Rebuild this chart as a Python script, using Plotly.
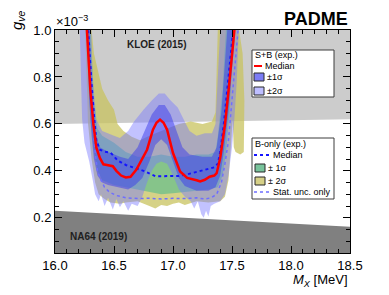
import plotly.graph_objects as go

# ---------------- data ----------------
kloe_x = [16.0, 18.5]
kloe_low = [0.600, 0.620]
kloe_top = 1.0
na64_x = [16.0, 18.5]
na64_high = [0.230, 0.162]
y_floor = 0.05

# S+B median (red)
sb_med_x = [16.265, 16.27, 16.29, 16.30, 16.325, 16.35, 16.38, 16.41, 16.44, 16.47, 16.49, 16.52, 16.56, 16.60,
            16.64, 16.69, 16.74, 16.78, 16.83, 16.86, 16.89, 16.92, 16.95, 17.00, 17.06, 17.12, 17.20, 17.23,
            17.27, 17.31, 17.35, 17.37, 17.40, 17.44, 17.47, 17.50, 17.52, 17.53]
sb_med_y = [1.05, 1.0, 0.82, 0.74, 0.60, 0.50, 0.455, 0.428, 0.425, 0.422, 0.42, 0.40, 0.38, 0.372,
            0.375, 0.405, 0.45, 0.49, 0.575, 0.605, 0.618, 0.605, 0.575, 0.476, 0.397, 0.37, 0.36, 0.355,
            0.362, 0.375, 0.38, 0.39, 0.455, 0.596, 0.737, 0.88, 1.0, 1.05]

# B-only median (blue dashed)
b_med_x = [16.275, 16.29, 16.31, 16.33, 16.35, 16.38, 16.42, 16.47, 16.53, 16.60, 16.66, 16.75, 16.85, 16.95,
           17.05, 17.12, 17.20, 17.28, 17.35, 17.38, 17.40, 17.43, 17.46, 17.49, 17.51, 17.52]
b_med_y = [1.05, 0.92, 0.77, 0.64, 0.53, 0.49, 0.482, 0.478, 0.445, 0.425, 0.415, 0.40, 0.377, 0.376,
           0.378, 0.385, 0.395, 0.405, 0.415, 0.43, 0.48, 0.596, 0.737, 0.88, 1.0, 1.05]

# B-only, statistical uncertainty only (dotted)
stat_x = [16.275, 16.30, 16.32, 16.34, 16.36, 16.39, 16.42, 16.46, 16.52, 16.60, 16.70, 16.80, 16.90, 17.00,
          17.10, 17.20, 17.27, 17.32, 17.37, 17.41, 17.44, 17.47, 17.51, 17.54, 17.56]
stat_y = [1.05, 0.80, 0.62, 0.48, 0.40, 0.36, 0.33, 0.31, 0.295, 0.285, 0.282, 0.283, 0.28, 0.283,
          0.282, 0.285, 0.28, 0.285, 0.30, 0.35, 0.43, 0.53, 0.74, 0.92, 1.05]

# B-only +-2 sigma (yellow)
b2_lo_x = [16.25, 16.26, 16.28, 16.31, 16.34, 16.37, 16.42, 16.47, 16.55, 16.60, 16.70, 16.80, 16.85, 16.90,
           16.95, 17.00, 17.05, 17.10, 17.20, 17.30, 17.40, 17.44, 17.47, 17.49, 17.505, 17.515, 17.53, 17.57,
           17.60, 17.605, 17.59, 17.56, 17.55]
b2_lo_y = [1.10, 0.90, 0.60, 0.45, 0.35, 0.30, 0.28, 0.265, 0.26, 0.265, 0.27, 0.25, 0.24, 0.255,
           0.25, 0.26, 0.265, 0.255, 0.27, 0.265, 0.27, 0.29, 0.36, 0.50, 0.62, 0.50, 0.48, 0.47,
           0.48, 0.70, 0.90, 1.0, 1.10]
b2_hi_x = [16.29, 16.31, 16.33, 16.36, 16.40, 16.45, 16.50, 16.53, 16.58, 16.65, 16.72, 16.80, 16.90, 17.00,
           17.05, 17.15, 17.25, 17.33, 17.36, 17.37, 17.38, 17.385]
b2_hi_y = [1.10, 1.0, 0.90, 0.84, 0.75, 0.70, 0.66, 0.60, 0.57, 0.545, 0.53, 0.55, 0.57, 0.59,
           0.60, 0.61, 0.60, 0.61, 0.65, 0.80, 1.0, 1.10]

# B-only +-1 sigma (green)
b1_lo_x = [16.265, 16.28, 16.30, 16.33, 16.36, 16.40, 16.50, 16.60, 16.70, 16.80, 16.90, 17.00, 17.10, 17.20,
           17.30, 17.38, 17.42, 17.45, 17.48, 17.50, 17.52]
b1_lo_y = [1.10, 0.85, 0.62, 0.48, 0.40, 0.36, 0.34, 0.33, 0.32, 0.31, 0.30, 0.305, 0.31, 0.315,
           0.32, 0.33, 0.38, 0.48, 0.65, 0.85, 1.10]
b1_hi_x = [16.30, 16.31, 16.33, 16.36, 16.40, 16.50, 16.60, 16.70, 16.80, 16.90, 17.00, 17.10, 17.20, 17.30,
           17.36, 17.38, 17.42, 17.45, 17.46]
b1_hi_y = [1.10, 0.90, 0.70, 0.58, 0.55, 0.52, 0.48, 0.46, 0.46, 0.47, 0.46, 0.46, 0.47, 0.47,
           0.48, 0.55, 0.75, 1.0, 1.10]

# S+B +-2 sigma (light blue)
sb2_lo_x = [16.20, 16.21, 16.22, 16.23, 16.25, 16.29, 16.32, 16.34, 16.37, 16.39, 16.42, 16.45, 16.49, 16.52,
            16.55, 16.58, 16.62, 16.65, 16.70, 16.74, 16.78, 16.82, 16.86, 16.90, 16.95, 17.00, 17.05, 17.10,
            17.15, 17.18, 17.21, 17.24, 17.26, 17.28, 17.30, 17.32, 17.35, 17.40, 17.44, 17.47, 17.50, 17.52,
            17.54, 17.555, 17.565]
sb2_lo_y = [1.10, 1.0, 0.80, 0.62, 0.52, 0.44, 0.36, 0.30, 0.27, 0.30, 0.25, 0.285, 0.235, 0.28,
            0.245, 0.27, 0.23, 0.26, 0.25, 0.29, 0.35, 0.40, 0.43, 0.44, 0.43, 0.38, 0.32, 0.29,
            0.27, 0.24, 0.27, 0.215, 0.20, 0.23, 0.205, 0.25, 0.26, 0.27, 0.30, 0.38, 0.50, 0.62,
            0.78, 0.92, 1.10]
sb2_hi_x = [16.30, 16.32, 16.35, 16.40, 16.50, 16.55, 16.62, 16.67, 16.75, 16.82, 16.88, 16.93, 16.98, 17.04,
            17.09, 17.14, 17.20, 17.27, 17.33, 17.36, 17.38, 17.40, 17.41]
sb2_hi_y = [1.10, 0.80, 0.62, 0.57, 0.55, 0.54, 0.57, 0.61, 0.66, 0.70, 0.73, 0.73, 0.70, 0.67,
            0.62, 0.57, 0.55, 0.56, 0.56, 0.60, 0.80, 1.0, 1.10]

# S+B +-1 sigma (blue)
sb1_lo_x = [16.26, 16.27, 16.29, 16.31, 16.33, 16.36, 16.40, 16.45, 16.55, 16.62, 16.68, 16.74, 16.80, 16.85,
            16.90, 16.95, 17.00, 17.05, 17.10, 17.20, 17.30, 17.36, 17.40, 17.43, 17.47, 17.50, 17.52, 17.53]
sb1_lo_y = [1.10, 0.95, 0.70, 0.55, 0.45, 0.38, 0.35, 0.34, 0.33, 0.32, 0.34, 0.37, 0.44, 0.51,
            0.535, 0.51, 0.44, 0.37, 0.335, 0.315, 0.315, 0.33, 0.38, 0.48, 0.65, 0.82, 0.95, 1.10]
sb1_hi_x = [16.285, 16.30, 16.32, 16.35, 16.38, 16.45, 16.55, 16.62, 16.70, 16.76, 16.82, 16.88, 16.93, 16.98,
            17.03, 17.08, 17.14, 17.25, 17.33, 17.37, 17.41, 17.44, 17.46, 17.47]
sb1_hi_y = [1.10, 0.90, 0.72, 0.55, 0.50, 0.48, 0.46, 0.45, 0.50, 0.57, 0.64, 0.68, 0.68, 0.64,
            0.57, 0.50, 0.47, 0.46, 0.46, 0.50, 0.65, 0.85, 1.0, 1.10]

x_ticks = [16.0, 16.5, 17.0, 17.5, 18.0, 18.5]
x_tick_text = ["16.0", "16.5", "17.0", "17.5", "18.0", "18.5"]
y_ticks = [0.2, 0.4, 0.6, 0.8, 1.0]
y_tick_text = ["0.2", "0.4", "0.6", "0.8", "1.0"]

# ---------------- colours ----------------
C_KLOE = "rgb(204,204,204)"
C_NA64 = "rgb(128,128,128)"
C_Y = "rgba(200,195,95,0.75)"
C_G = "rgba(100,190,140,0.7)"
C_LB = "rgba(120,120,255,0.45)"
C_B = "rgba(60,60,235,0.5)"
C_RED = "rgb(255,0,0)"
C_BMED = "rgb(20,20,255)"
C_STAT = "rgb(110,110,255)"

FONT = "Liberation Sans, Arial, sans-serif"

fig = go.Figure()


def band(lo_x, lo_y, hi_x, hi_y, color):
    return go.Scatter(x=lo_x + hi_x[::-1], y=lo_y + hi_y[::-1], fill="toself", fillcolor=color,
                      mode="lines", line=dict(width=0, color=color), hoverinfo="skip", showlegend=False)


# exclusion regions
fig.add_trace(go.Scatter(x=kloe_x + kloe_x[::-1], y=kloe_low + [kloe_top, kloe_top], fill="toself",
                         fillcolor=C_KLOE, mode="lines", line=dict(width=0), showlegend=False))
fig.add_trace(go.Scatter(x=na64_x + na64_x[::-1], y=na64_high + [y_floor, y_floor], fill="toself",
                         fillcolor=C_NA64, mode="lines", line=dict(width=0), showlegend=False))

# bands
fig.add_trace(band(b2_lo_x, b2_lo_y, b2_hi_x, b2_hi_y, C_Y))
fig.add_trace(band(b1_lo_x, b1_lo_y, b1_hi_x, b1_hi_y, C_G))
fig.add_trace(band(sb2_lo_x, sb2_lo_y, sb2_hi_x, sb2_hi_y, C_LB))
fig.add_trace(band(sb1_lo_x, sb1_lo_y, sb1_hi_x, sb1_hi_y, C_B))

# lines
fig.add_trace(go.Scatter(x=stat_x, y=stat_y, mode="lines", line=dict(color=C_STAT, width=1.5, dash="dot"),
                         showlegend=False))
fig.add_trace(go.Scatter(x=b_med_x, y=b_med_y, mode="lines", line=dict(color=C_BMED, width=2, dash="dot"),
                         showlegend=False))
fig.add_trace(go.Scatter(x=sb_med_x, y=sb_med_y, mode="lines", line=dict(color=C_RED, width=2.5),
                         showlegend=False))

# ---------------- layout helpers ----------------
# The page's default body margin offsets the figure by 8 px, so the figure is
# made 8 px smaller and all positions below are given in page pixels.
OFF = 8
W, H = 389 - OFF, 295 - OFF
L, R, T, B = 55, 350, 30, 253   # plot frame in page pixels


def PX(p):
    return (p - L) / (R - L)


def PY(p):
    return (B - p) / (B - T)


shapes = []
ann = []

# legend boxes
for (x0, y0, x1, y1) in [(252, 50, 334, 97), (252, 138, 334, 199)]:
    shapes.append(dict(type="rect", xref="paper", yref="paper", x0=PX(x0), x1=PX(x1), y0=PY(y1), y1=PY(y0),
                       fillcolor="white", line=dict(color="rgb(60,60,60)", width=1), layer="above"))


def txt(s, x, y, size=9, anchor="left", color="black", **kw):
    ann.append(dict(text=s, x=PX(x), y=PY(y), xref="paper", yref="paper", showarrow=False,
                    xanchor=anchor, yanchor="middle", font=dict(family=FONT, size=size, color=color), **kw))


# S+B legend
txt("S+B (exp.)", 253, 55)
shapes.append(dict(type="line", xref="paper", yref="paper", x0=PX(254), x1=PX(262), y0=PY(66), y1=PY(66),
                   line=dict(color=C_RED, width=2), layer="above"))
txt("Median", 263, 66)
shapes.append(dict(type="rect", xref="paper", yref="paper", x0=PX(254), x1=PX(264), y0=PY(81), y1=PY(73),
                   fillcolor="rgb(124,124,245)", line=dict(color="rgb(40,40,40)", width=1), layer="above"))
txt("±1σ", 264.5, 77)
shapes.append(dict(type="rect", xref="paper", yref="paper", x0=PX(254), x1=PX(264), y0=PY(95), y1=PY(87),
                   fillcolor="rgb(190,190,255)", line=dict(color="rgb(40,40,40)", width=1), layer="above"))
txt("±2σ", 264.5, 91)

# B-only legend
txt("B-only (exp.)", 253, 144)
shapes.append(dict(type="line", xref="paper", yref="paper", x0=PX(254), x1=PX(270), y0=PY(155), y1=PY(155),
                   line=dict(color=C_BMED, width=2, dash="dot"), layer="above"))
txt("Median", 271, 155)
shapes.append(dict(type="rect", xref="paper", yref="paper", x0=PX(255), x1=PX(265), y0=PY(172), y1=PY(164),
                   fillcolor="rgb(120,195,155)", line=dict(color="rgb(40,40,40)", width=1), layer="above"))
txt("± 1σ", 266, 168)
shapes.append(dict(type="rect", xref="paper", yref="paper", x0=PX(255), x1=PX(265), y0=PY(185), y1=PY(177),
                   fillcolor="rgb(214,208,135)", line=dict(color="rgb(40,40,40)", width=1), layer="above"))
txt("± 2σ", 266, 181)
shapes.append(dict(type="line", xref="paper", yref="paper", x0=PX(254), x1=PX(270), y0=PY(192), y1=PY(192),
                   line=dict(color=C_STAT, width=1.5, dash="dot"), layer="above"))
txt("Stat. unc. only", 271, 192)

# region labels (data coords)
ann.append(dict(text="<b>KLOE (2015)</b>", x=16.864, y=0.938, xref="x", yref="y", showarrow=False,
                font=dict(family=FONT, size=10, color="rgb(30,30,30)")))
ann.append(dict(text="<b>NA64 (2019)</b>", x=16.369, y=0.119, xref="x", yref="y", showarrow=False,
                font=dict(family=FONT, size=10, color="rgb(30,30,30)")))

# titles
txt("<b>PADME</b>", 350, 19, size=18, anchor="right")
txt("×10<sup>−3</sup>", 54, 21, size=13)
txt("<i>M</i><sub><i>X</i></sub> [MeV]", 350, 280, size=13, anchor="right")
ann.append(dict(text="<i>g</i><sub><i>ve</i></sub>", x=PX(17), y=PY(20), xref="paper", yref="paper",
                showarrow=False, textangle=-90, xanchor="center", yanchor="middle",
                font=dict(family=FONT, size=15, color="black")))

axis_common = dict(showgrid=False, zeroline=False, showline=True, linecolor="black", linewidth=1,
                   mirror="allticks", ticks="inside", tickcolor="black",
                   tickfont=dict(family=FONT, size=13, color="black"))

fig.update_layout(
    width=W, height=H, autosize=False,
    margin=dict(l=L - OFF, r=389 - R, t=T - OFF, b=295 - B, autoexpand=False),
    paper_bgcolor="white", plot_bgcolor="white",
    showlegend=False,
    shapes=shapes, annotations=ann,
    xaxis=dict(range=[16.0, 18.5], tickvals=x_ticks, ticktext=x_tick_text, ticklen=7,
               minor=dict(ticks="inside", ticklen=4, dtick=0.1, tickcolor="black"), **axis_common),
    yaxis=dict(range=[0.05, 1.0], tickvals=y_ticks, ticktext=y_tick_text, ticklen=7,
               minor=dict(ticks="inside", ticklen=4, dtick=0.05, tickcolor="black"), **axis_common),
)

fig.write_html("out.html")
